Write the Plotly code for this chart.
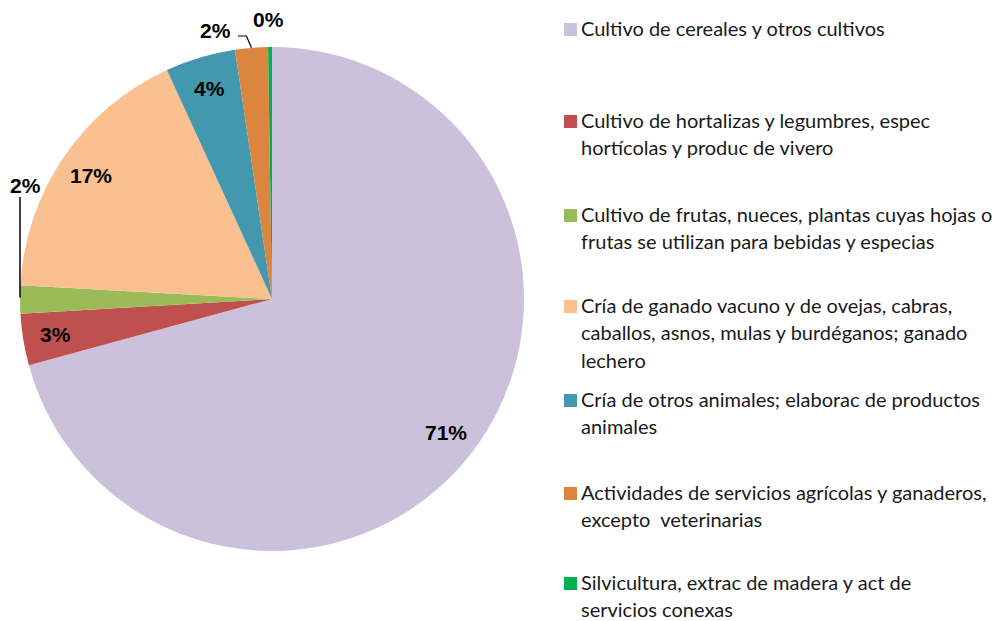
import math
import plotly.graph_objects as go

PAGE_W, PAGE_H = 1006, 621
OFF = 8  # default body margin of the html page
W, H = PAGE_W - OFF, PAGE_H - OFF

categories = [
    "Cultivo de cereales y otros cultivos",
    "Cultivo de hortalizas y legumbres, espec hortícolas y produc de vivero",
    "Cultivo de frutas, nueces, plantas cuyas hojas o frutas se utilizan para bebidas y especias",
    "Cría de ganado vacuno y de ovejas, cabras, caballos, asnos, mulas y burdéganos; ganado lechero",
    "Cría de otros animales; elaborac de productos animales",
    "Actividades de servicios agrícolas y ganaderos, excepto  veterinarias",
    "Silvicultura, extrac de madera y act de servicios conexas",
]
legend_lines = [
    ["Cultivo de cereales y otros cultivos"],
    ["Cultivo de hortalizas y legumbres, espec", "hortícolas y produc de vivero"],
    ["Cultivo de frutas, nueces, plantas cuyas hojas o", "frutas se utilizan para bebidas y especias"],
    ["Cría de ganado vacuno y de ovejas, cabras,", "caballos, asnos, mulas y burdéganos; ganado", "lechero"],
    ["Cría de otros animales; elaborac de productos", "animales"],
    ["Actividades de servicios agrícolas y ganaderos,", "excepto  veterinarias"],
    ["Silvicultura, extrac de madera y act de", "servicios conexas"],
]
values = [70.8, 3.3, 1.8, 17.3, 4.5, 2.1, 0.25]
pct_labels = ["71%", "3%", "2%", "17%", "4%", "2%", "0%"]
colors = ["#CCC1DA", "#C0504D", "#9BBB59", "#FAC090", "#4198AF", "#DC853E", "#00B050"]

# geometry (page pixels)
CX, CY, R = 272, 299, 252
legend_top = [28, 120, 214, 305, 399, 492, 582]
LINE_H = 27.4

def px(x):
    return (x - OFF) / W

def py(y):
    return 1 - (y - OFF) / H

fig = go.Figure(go.Pie(
    labels=categories, values=values, sort=False, direction="clockwise", rotation=0,
    marker=dict(colors=colors, line=dict(width=0)), textinfo="none", hoverinfo="label+percent",
    domain=dict(x=[px(CX - R), px(CX + R)], y=[py(CY + R), py(CY - R)]),
    showlegend=False,
))

annotations = []
shapes = []
label_font = dict(family="Liberation Sans Narrow, Arial Narrow, Liberation Sans", size=21, color="black")

total = sum(values)
cum = 0
mids = []
for v in values:
    a0 = cum / total * 360
    cum += v
    a1 = cum / total * 360
    mids.append((a0 + a1) / 2)

def polar(angle, r):
    t = math.radians(angle)
    return CX + r * math.sin(t), CY - r * math.cos(t)

outside = {2, 5, 6}
for i, (m, lab) in enumerate(zip(mids, pct_labels)):
    if i not in outside:
        x, y = polar(m, 0.87 * R)
        annotations.append(dict(x=px(x), y=py(y), xref="paper", yref="paper", text="<b>%s</b>" % lab,
                                showarrow=False, font=label_font, xanchor="center", yanchor="middle"))
    elif i == 2:
        ex, ey = polar(m, R)
        shapes.append(dict(type="path", xref="paper", yref="paper",
                           path="M %f %f L %f %f" % (px(ex), py(ey - 2), px(ex), py(197)),
                           line=dict(color="black", width=1.5)))
        annotations.append(dict(x=px(ex + 5), y=py(185), xref="paper", yref="paper", text="<b>%s</b>" % lab,
                                showarrow=False, font=label_font, xanchor="center", yanchor="middle"))
    elif i == 5:
        ex, ey = polar(m, R)
        shapes.append(dict(type="path", xref="paper", yref="paper",
                           path="M %f %f L %f %f L %f %f" % (px(ex), py(ey), px(ex - 5), py(36), px(238), py(36)),
                           line=dict(color="black", width=1.2)))
        annotations.append(dict(x=px(215), y=py(30), xref="paper", yref="paper", text="<b>%s</b>" % lab,
                                showarrow=False, font=label_font, xanchor="center", yanchor="middle"))
    else:
        ex, ey = polar(m, R)
        annotations.append(dict(x=px(ex - 2), y=py(20), xref="paper", yref="paper", text="<b>%s</b>" % lab,
                                showarrow=False, font=label_font, xanchor="center", yanchor="middle"))

legend_font = dict(family="Lato, sans-serif", size=20, color="#1a1a1a")
for i, lines in enumerate(legend_lines):
    y0 = legend_top[i]
    shapes.append(dict(type="rect", xref="paper", yref="paper",
                       x0=px(564), x1=px(577), y0=py(y0 - 5), y1=py(y0 + 8),
                       fillcolor=colors[i], line=dict(width=0)))
    for k, t in enumerate(lines):
        annotations.append(dict(x=px(580), y=py(y0 + k * LINE_H), xref="paper", yref="paper", text=t,
                                showarrow=False, font=legend_font, xanchor="left", yanchor="middle",
                                borderpad=0))

fig.update_layout(width=W, height=H, margin=dict(l=0, r=0, t=0, b=0),
                  paper_bgcolor="white", plot_bgcolor="white",
                  annotations=annotations, shapes=shapes, showlegend=False)
fig.write_html("out.html")
